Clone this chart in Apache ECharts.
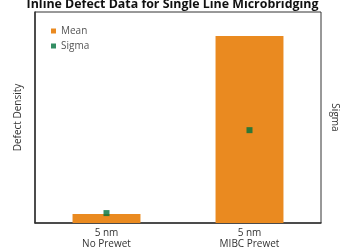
<!DOCTYPE html>
<html><head><meta charset="utf-8">
<script src="https://cdn.jsdelivr.net/npm/echarts@6/dist/echarts.min.js"></script>
<style>html,body{margin:0;padding:0;background:#fff}#c{width:345px;height:250px}</style>
</head><body><div id="c"></div>
<script>
const titleText = 'Inline Defect Data for Single Line Microbridging';
const categories = ['5 nm\nNo Prewet', '5 nm\nMIBC Prewet'];
const meanValues = [4.3, 88.6];
const sigmaValues = [4.7, 44];
const chart = echarts.init(document.getElementById('c'), null, {renderer: 'canvas'});
chart.setOption({
  animation: false,
  title: {text: titleText, left: 'center', top: -7, textStyle: {fontFamily: 'Open Sans', fontWeight: 'bold', fontSize: 12.4, color: '#111'}},
  legend: {orient: 'vertical', left: 46, top: 21, itemWidth: 5, itemHeight: 5, itemGap: 5, icon: 'rect',
    textStyle: {fontFamily: 'Open Sans', fontSize: 10, color: '#555'}, data: ['Mean', 'Sigma']},
  grid: {left: 35, right: 24, top: 12, bottom: 27, show: true, borderColor: '#333', borderWidth: 1, outerBoundsMode: 'none', containLabel: false},
  xAxis: {type: 'category', data: categories, axisTick: {show: false}, axisLine: {lineStyle: {color: '#333', width: 1.5}},
    axisLabel: {fontFamily: 'Open Sans', fontSize: 10, color: '#333', lineHeight: 11, margin: 5}},
  yAxis: [
    {type: 'value', min: 0, max: 100, name: 'Defect Density', nameLocation: 'middle', nameGap: 12, nameRotate: 90,
      nameTextStyle: {fontFamily: 'Open Sans', fontSize: 10, color: '#333'},
      axisLabel: {show: false}, axisTick: {show: false}, splitLine: {show: false}, axisLine: {show: true, lineStyle: {color: '#333', width: 1.5}}},
    {type: 'value', min: 0, max: 100, name: 'Sigma', nameLocation: 'middle', nameGap: 9, nameRotate: -90,
      nameTextStyle: {fontFamily: 'Open Sans', fontSize: 10, color: '#333'},
      axisLabel: {show: false}, axisTick: {show: false}, splitLine: {show: false}, axisLine: {show: false}}
  ],
  series: [
    {name: 'Mean', type: 'bar', data: meanValues, barWidth: '47.5%', itemStyle: {color: '#ea8a20'}},
    {name: 'Sigma', type: 'scatter', yAxisIndex: 1, data: sigmaValues, symbol: 'rect', symbolSize: 6, itemStyle: {color: '#00723c'}, z: 5}
  ]
});
</script></body></html>
